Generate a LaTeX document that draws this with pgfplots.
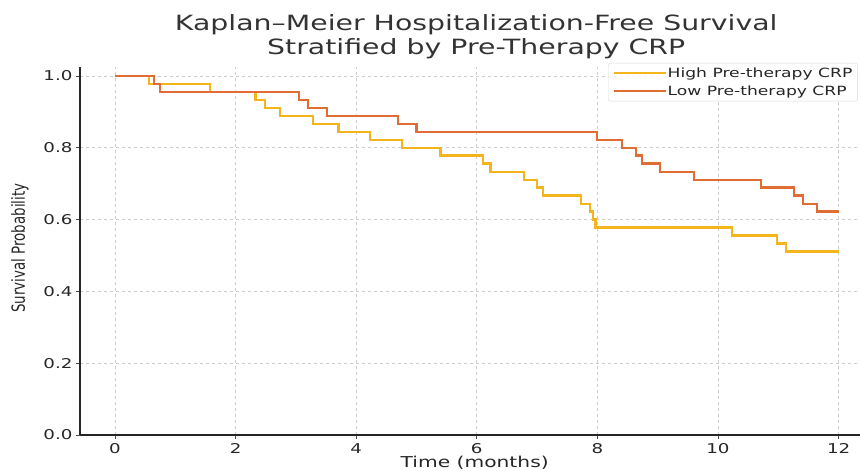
\documentclass[border=0pt]{standalone}
\usepackage{graphicx}
\usepackage{fontspec}
\setmainfont{DejaVu Sans}[FakeStretch=1.35]
\newfontfamily\plainfont{DejaVu Sans}
\usepackage{pgfplots}
\pgfplotsset{compat=1.18}
\definecolor{highc}{RGB}{244,180,28}
\definecolor{lowc}{RGB}{224,110,52}
\begin{document}
\begin{tikzpicture}
\begin{axis}[
 at={(0,0)}, anchor=south west,
 scale only axis, width=780pt, height=368pt,
 xmin=-0.58, xmax=12.355, ymin=0, ymax=1.025,
 axis x line*=bottom, axis y line*=left,
 axis line style={black!85, line width=1.1pt, -},
 xtick={0,2,4,6,8,10,12},
 ytick={0,0.2,0.4,0.6,0.8,1.0},
 /pgf/number format/assume math mode=true,
 tick label style={font=\fontsize{13.5}{15}\selectfont, text=black!85},
 yticklabel style={/pgf/number format/.cd, fixed, fixed zerofill, precision=1},
 xticklabel style={anchor=base, yshift=-15pt},
 tick align=outside, major tick length=4pt,
 tick style={black!70, line width=0.8pt},
 grid=major,
 major grid style={gray!40, line width=0.7pt, dash pattern=on 3pt off 3pt},
 title={Kaplan–Meier Hospitalization-Free Survival\\Stratified by Pre-Therapy CRP},
 title style={at={(axis description cs:0.508,1)}, anchor=south, align=center,
   font=\fontsize{21}{24}\selectfont, inner sep=0pt, yshift=2pt, text=black!80},
 xlabel={Time (months)},
 xlabel style={at={(axis description cs:0.506,0)}, anchor=base, yshift=-33pt,
   font=\fontsize{15}{17}\selectfont, text=black!85, inner sep=0pt},
 ylabel={\scalebox{1}[1.35]{\plainfont\fontsize{13.4}{15}\selectfont Survival Probability}},
 ylabel style={at={(axis description cs:-0.077,0.508)}, rotate=0, anchor=center, text=black!85, inner sep=0pt},
 legend cell align=left,
 legend image code/.code={\draw[#1, line width=2.4pt] (0pt,0pt) -- (39pt,0pt); \path (0pt,0pt) -- (52pt,0pt);},
 legend style={at={(axis description cs:0.677,1.011)}, anchor=north west,
   draw=black!15, rounded corners=2pt, fill=white, fill opacity=0.85, text opacity=1,
   font=\fontsize{12.7}{14}\selectfont, text=black!85,
   inner xsep=5pt, inner ysep=1pt, row sep=0pt,
   nodes={inner xsep=0pt, inner ysep=0pt, text height=13pt, text depth=5pt, anchor=west}},
]
\addplot[const plot, color=highc, line width=2.4pt] coordinates {
(0,1.0) (0.56,0.978) (1.58,0.956) (2.33,0.933) (2.49,0.911) (2.74,0.889)
(3.28,0.867) (3.71,0.844) (4.23,0.822) (4.76,0.800) (5.40,0.778) (6.10,0.756)
(6.23,0.733) (6.78,0.711) (7.00,0.689) (7.10,0.667) (7.73,0.644) (7.88,0.622)
(7.93,0.600) (7.97,0.578) (10.23,0.556) (10.98,0.533) (11.13,0.511) (12.0,0.511)
};
\addlegendentry{High Pre-therapy CRP}
\addplot[const plot, color=lowc, line width=2.4pt] coordinates {
(0,1.0) (0.65,0.978) (0.75,0.956) (3.05,0.933) (3.20,0.911) (3.52,0.889)
(4.69,0.867) (5.00,0.844) (7.99,0.822) (8.41,0.800) (8.64,0.778) (8.74,0.756)
(9.04,0.733) (9.60,0.711) (10.71,0.689) (11.26,0.667) (11.41,0.644) (11.64,0.622)
(12.0,0.622)
};
\addlegendentry{Low Pre-therapy CRP}
\end{axis}
\pgfresetboundingbox
\useasboundingbox (-80pt,-36pt) rectangle (780pt,435pt);
\end{tikzpicture}
\end{document}
